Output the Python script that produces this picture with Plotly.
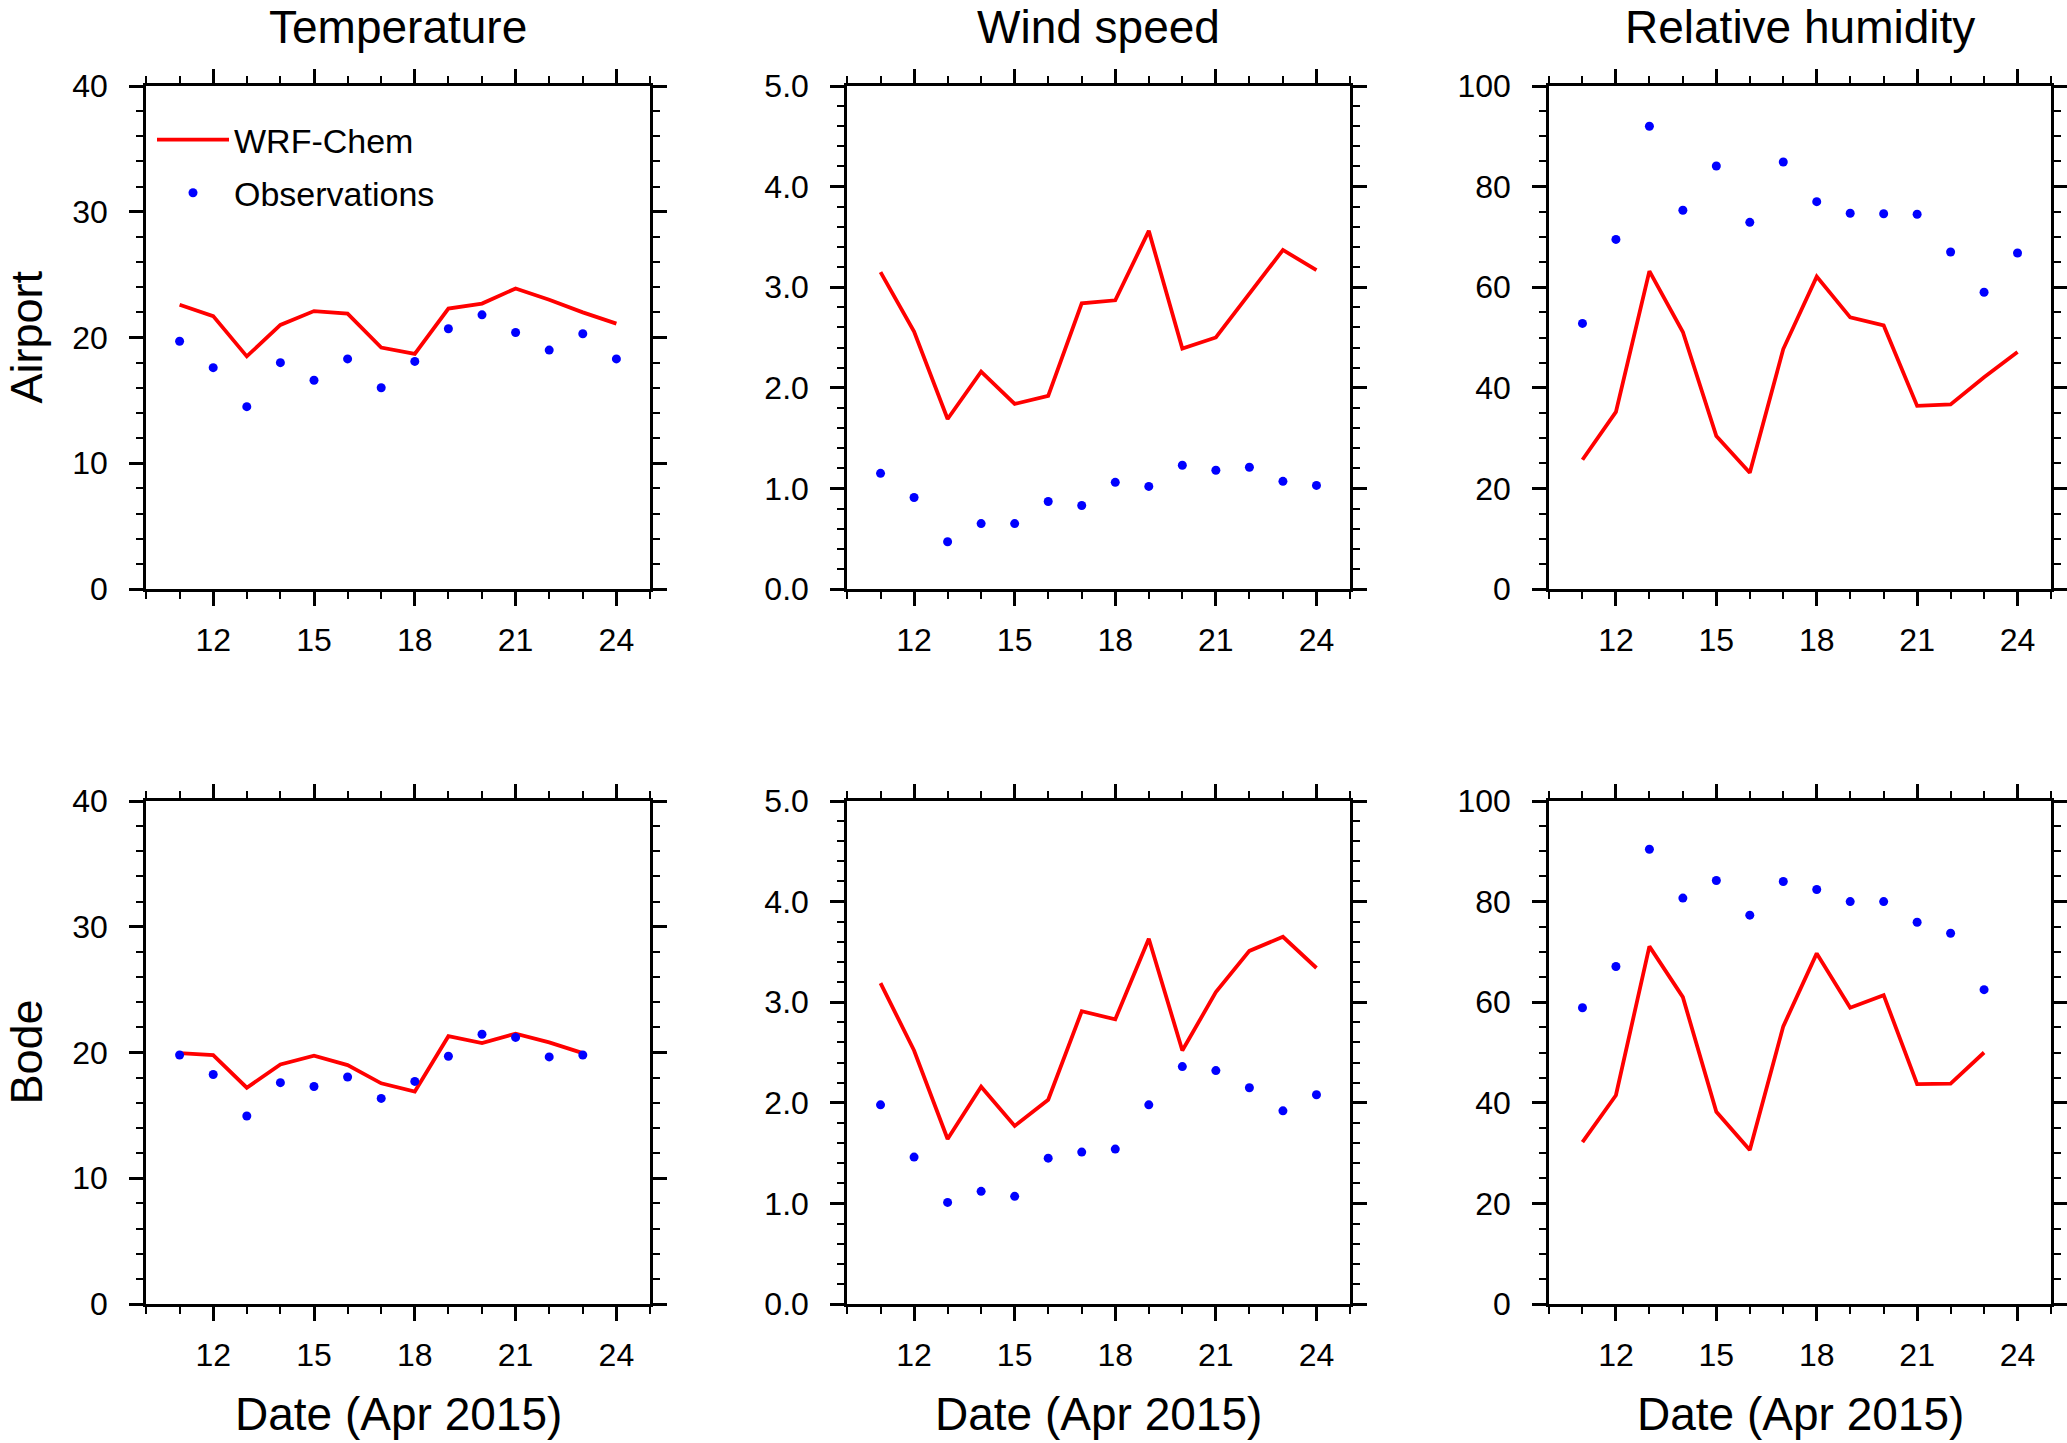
import plotly.graph_objects as go

# Days of April 2015
days = [11, 12, 13, 14, 15, 16, 17, 18, 19, 20, 21, 22, 23, 24]
days_short = [11, 12, 13, 14, 15, 16, 17, 18, 19, 20, 21, 22, 23]

# Airport
temp_airport_wrf = [22.6, 21.7, 18.5, 21.0, 22.1, 21.9, 19.2, 18.7, 22.3, 22.7, 23.9, 23.0, 22.0, 21.1]
temp_airport_obs = [19.7, 17.6, 14.5, 18.0, 16.6, 18.3, 16.0, 18.1, 20.7, 21.8, 20.4, 19.0, 20.3, 18.3]
wind_airport_wrf = [3.15, 2.56, 1.69, 2.16, 1.84, 1.92, 2.84, 2.87, 3.56, 2.39, 2.50, 2.93, 3.37, 3.17]
wind_airport_obs = [1.15, 0.91, 0.47, 0.65, 0.65, 0.87, 0.83, 1.06, 1.02, 1.23, 1.18, 1.21, 1.07, 1.03]
rh_airport_wrf = [25.7, 35.2, 63.2, 51.1, 30.4, 23.1, 47.7, 62.1, 54.0, 52.4, 36.4, 36.7, 42.1, 47.1]
rh_airport_obs = [52.8, 69.5, 92.0, 75.3, 84.1, 72.9, 84.9, 77.0, 74.7, 74.6, 74.5, 67.0, 59.0, 66.8]

# Bode
temp_bode_wrf = [19.95, 19.8, 17.2, 19.05, 19.75, 19.0, 17.55, 16.9, 21.3, 20.75, 21.5, 20.8, 19.95]
temp_bode_obs = [19.8, 18.25, 14.95, 17.6, 17.3, 18.05, 16.35, 17.7, 19.7, 21.45, 21.2, 19.65, 19.8]
wind_bode_wrf = [3.19, 2.52, 1.64, 2.16, 1.77, 2.03, 2.91, 2.83, 3.63, 2.52, 3.10, 3.51, 3.65, 3.34]
wind_bode_obs = [1.98, 1.46, 1.01, 1.12, 1.07, 1.45, 1.51, 1.54, 1.98, 2.36, 2.32, 2.15, 1.92, 2.08]
rh_bode_wrf = [32.2, 41.5, 71.1, 61.0, 38.2, 30.6, 55.2, 69.7, 58.9, 61.4, 43.7, 43.8, 50.0]
rh_bode_obs = [58.9, 67.1, 90.4, 80.7, 84.2, 77.3, 84.0, 82.4, 80.0, 80.0, 75.9, 73.7, 62.5]

titles = ["Temperature", "Wind speed", "Relative humidity"]
rows = ["Airport", "Bode"]
x_ticks = [12, 15, 18, 21, 24]

W, H = 2067, 1443
FONT = "Liberation Sans, Arial, sans-serif"

panels = [
    # (row, col, x for model, model, obs, x for obs)
    (0, 0, days, temp_airport_wrf, temp_airport_obs, days),
    (0, 1, days, wind_airport_wrf, wind_airport_obs, days),
    (0, 2, days, rh_airport_wrf, rh_airport_obs, days),
    (1, 0, days_short, temp_bode_wrf, temp_bode_obs, days_short),
    (1, 1, days, wind_bode_wrf, wind_bode_obs, days),
    (1, 2, days_short, rh_bode_wrf, rh_bode_obs, days_short),
]

# panel boxes in pixels
x_px = [(146, 650), (847, 1350), (1549, 2051)]
y_px = [(86, 589), (801, 1304)]

y_specs = [
    dict(range=[0, 40], dtick=10, minor=2, fmt=""),
    dict(range=[0, 5], dtick=1, minor=0.2, fmt=".1f"),
    dict(range=[0, 100], dtick=20, minor=5, fmt=""),
]

fig = go.Figure()
layout = {}
for i, (r, c, xw, wrf, obs, xo) in enumerate(panels):
    n = i + 1
    xa = "x" if n == 1 else f"x{n}"
    ya = "y" if n == 1 else f"y{n}"
    fig.add_trace(go.Scatter(
        x=xw, y=wrf, mode="lines", name="WRF-Chem",
        line=dict(color="#ff0000", width=3.8),
        xaxis=xa, yaxis=ya, showlegend=(n == 1), legendgroup="wrf",
    ))
    fig.add_trace(go.Scatter(
        x=xo, y=obs, mode="markers", name="Observations",
        marker=dict(color="#0000ff", size=9),
        xaxis=xa, yaxis=ya, showlegend=(n == 1), legendgroup="obs",
    ))
    x0, x1 = x_px[c]
    y0, y1 = y_px[r]
    spec = y_specs[c]
    common = dict(
        showline=True, linewidth=2.5, linecolor="black", mirror="ticks",
        ticks="outside", ticklen=14, tickwidth=2.5, tickcolor="black",
        showgrid=False, zeroline=False, automargin=False,
        tickfont=dict(size=32, color="black", family=FONT),
    )
    layout["xaxis" if n == 1 else f"xaxis{n}"] = dict(
        common, domain=[x0 / W, x1 / W], range=[10, 25],
        tickvals=x_ticks, ticklabelstandoff=7,
        minor=dict(dtick=1, tick0=10, ticks="outside", ticklen=7, tickwidth=2, tickcolor="black"),
        anchor=ya,
    )
    layout["yaxis" if n == 1 else f"yaxis{n}"] = dict(
        common, domain=[1 - y1 / H, 1 - y0 / H], range=spec["range"],
        tick0=0, dtick=spec["dtick"], tickformat=spec["fmt"], ticklabelstandoff=15,
        minor=dict(dtick=spec["minor"], tick0=0, ticks="outside", ticklen=7, tickwidth=2, tickcolor="black"),
        anchor=xa,
    )

annotations = []
for c, t in enumerate(titles):
    x0, x1 = x_px[c]
    annotations.append(dict(
        text=t, x=(x0 + x1) / 2 / W, y=1 - 27 / H, xref="paper", yref="paper",
        xanchor="center", yanchor="middle", showarrow=False,
        font=dict(size=46, color="black", family=FONT),
    ))
    annotations.append(dict(
        text="Date (Apr 2015)", x=(x0 + x1) / 2 / W, y=1 - 1414 / H, xref="paper", yref="paper",
        xanchor="center", yanchor="middle", showarrow=False,
        font=dict(size=46, color="black", family=FONT),
    ))
for r, t in enumerate(rows):
    y0, y1 = y_px[r]
    annotations.append(dict(
        text=t, x=26 / W, y=1 - (y0 + y1) / 2 / H, xref="paper", yref="paper",
        xanchor="center", yanchor="middle", showarrow=False, textangle=-90,
        font=dict(size=45, color="black", family=FONT),
    ))

fig.update_layout(
    **layout,
    annotations=annotations,
    width=W, height=H,
    margin=dict(l=0, r=0, t=0, b=0, pad=0, autoexpand=False),
    paper_bgcolor="white", plot_bgcolor="white",
    font=dict(family=FONT, color="black"),
    legend=dict(
        x=152 / W, y=1 - 111 / H, xanchor="left", yanchor="top",
        font=dict(size=34, color="black", family=FONT),
        bgcolor="rgba(0,0,0,0)", itemwidth=72, tracegroupgap=6,
        traceorder="grouped",
    ),
)

fig.write_html(
    "out.html",
    config={"displayModeBar": False},
    post_script="document.body.style.margin='0';document.body.style.overflow='hidden';",
)
